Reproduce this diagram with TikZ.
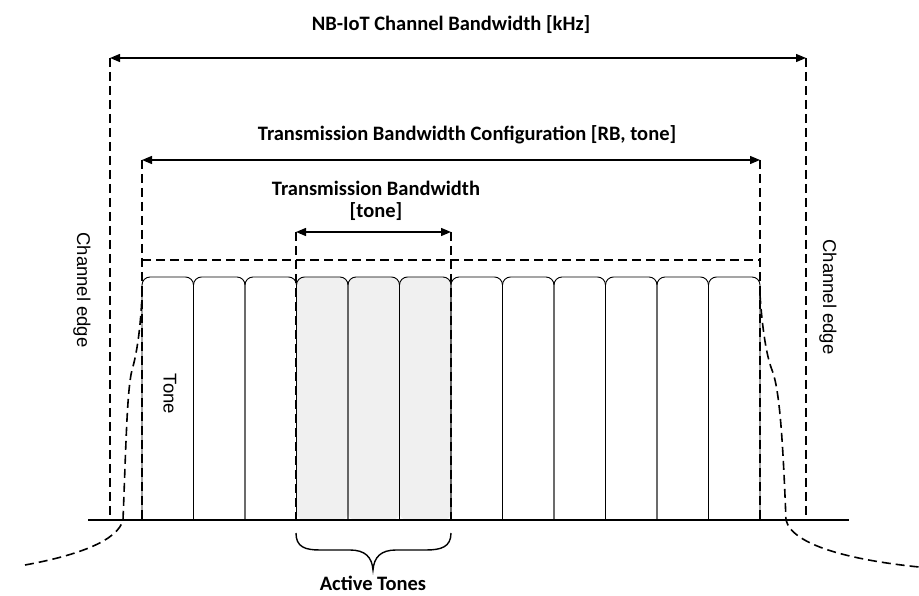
\documentclass[tikz,border=0pt]{standalone}
\usepackage{fontspec}
\setmainfont{Carlito}
\newfontfamily\arialfont{Liberation Sans}
\usetikzlibrary{arrows.meta}

\begin{document}
\begin{tikzpicture}[x=1pt, y=1pt,
    dimline/.style={{Triangle[length=10pt,width=8pt]}-{Triangle[length=10pt,width=8pt]}, line width=1.3pt},
    edgeline/.style={line width=1.8pt, dash pattern=on 9pt off 5pt},
    toneline/.style={line width=0.9pt, rounded corners=8pt},
    lbl/.style={font=\fontsize{20.5}{24}\selectfont\bfseries},
    sidelbl/.style={rotate=-90, font=\arialfont\fontsize{18.5}{20}\selectfont}]
    \useasboundingbox (0,0) rectangle (919,595);

    % Reference points
    \coordinate (base) at (0,75);
    \coordinate (chL) at (110,537);
    \coordinate (chR) at (806,537);
    \coordinate (cfgL) at (142,435);
    \coordinate (cfgR) at (760,435);
    \coordinate (txL) at (296,363);
    \coordinate (txR) at (451,363);

    % Active tones (shaded)
    \foreach \i in {3,4,5}{
        \pgfmathsetmacro\xa{142+51.5*\i}
        \pgfmathsetmacro\xb{142+51.5*(\i+1)}
        \fill[gray!12, rounded corners=8pt] (\xa,75) -- (\xa,318) -- (\xb,318) -- (\xb,75) -- cycle;
    }

    % Tones
    \foreach \i in {0,...,11}{
        \pgfmathsetmacro\xa{142+51.5*\i}
        \pgfmathsetmacro\xb{142+51.5*(\i+1)}
        \draw[toneline] (\xa,75) -- (\xa,318) -- (\xb,318) -- (\xb,75);
    }
    \node[sidelbl] (tonelbl) at (170,201) {Tone};

    % Frequency axis
    \draw[line width=1.6pt] (88,75) -- (849,75);

    % Channel bandwidth
    \draw[edgeline] (chL) -- (chL |- base);
    \draw[edgeline] (chR) -- (chR |- base);
    \draw[dimline] (chL) -- (chR);
    \node[lbl] (chbw) at (451,570) {NB-IoT Channel Bandwidth [kHz]};

    % Transmission bandwidth configuration
    \draw[edgeline] (cfgL) -- (cfgL |- base);
    \draw[edgeline] (cfgR) -- (cfgR |- base);
    \draw[edgeline] (142,335) -- (760,335);
    \draw[dimline] (cfgL) -- (cfgR);
    \node[lbl] (cfgbw) at (467,460) {Transmission Bandwidth Configuration [RB, tone]};

    % Transmission bandwidth
    \draw[edgeline] (txL) -- (txL |- base);
    \draw[edgeline] (txR) -- (txR |- base);
    \draw[dimline] (txL) -- (txR);
    \node[lbl] (txbw) at (376,407) {Transmission Bandwidth};
    \node[lbl] (txunit) at (376,383) {[tone]};

    % Channel edges
    \node[sidelbl] (edgeL) at (82,305) {Channel edge};
    \node[sidelbl] (edgeR) at (828,298) {Channel edge};

    % Spectrum roll-off
    \draw[edgeline, line width=1.6pt] (25,30) .. controls (80,40) and (118,55) .. (123,75)
        .. controls (126,150) and (127,205) .. (132,225)
        .. controls (138,245) and (141,275) .. (142,300);
    \draw[edgeline, line width=1.6pt] (760,300) .. controls (762,270) and (766,240) .. (772,225)
        .. controls (780,205) and (783,150) .. (786,75)
        .. controls (792,50) and (850,35) .. (919,28);

    % Active tones brace
    \draw[line width=1.4pt] (txL |- 0,62) .. controls (296,48) and (305,45) .. (320,45) -- (350,45)
        .. controls (365,45) and (372,38) .. (373,25)
        .. controls (374,38) and (381,45) .. (396,45) -- (426,45)
        .. controls (441,45) and (451,48) .. (txR |- 0,62);
    \node[lbl, anchor=base] (active) at (373,5) {Active Tones};
\end{tikzpicture}
\end{document}
